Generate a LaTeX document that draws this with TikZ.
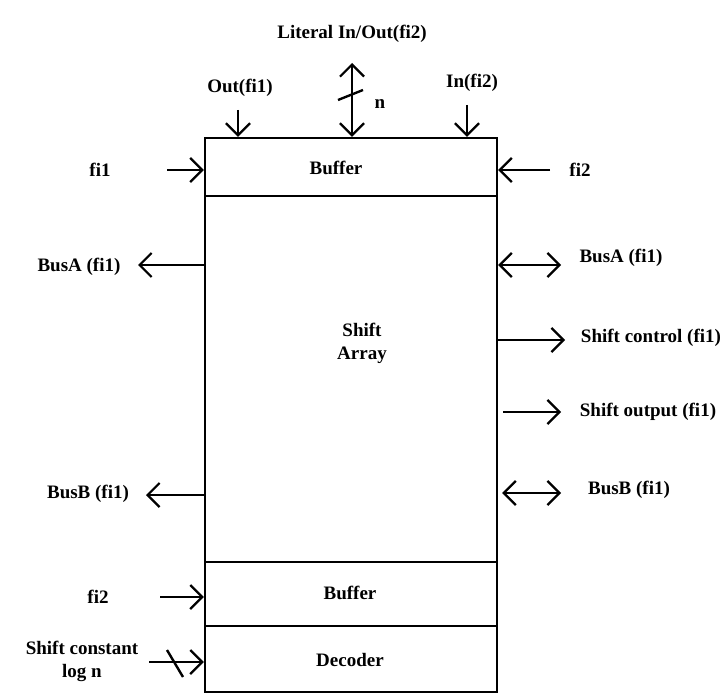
\documentclass[tikz,border=0pt]{standalone}
\usepackage{fontspec}
\setmainfont{Liberation Serif}
\usetikzlibrary{arrows.meta}

\begin{document}
\begin{tikzpicture}[x=1pt, y=-1pt,
    blk/.style={draw, line width=2.4pt, minimum width=292pt, inner sep=0pt},
    lbl/.style={font=\bfseries\fontsize{19}{23}\selectfont, inner sep=0pt, align=center},
    arr/.style={-{Straight Barb[length=12pt,width=24pt]}, line width=2.2pt},
    darr/.style={{Straight Barb[length=12pt,width=24pt]}-{Straight Barb[length=12pt,width=24pt]}, line width=2.2pt},
    bar/.style={line width=2.4pt}
]
\useasboundingbox (0,0) rectangle (728,695);

% Blocks
\node[blk, minimum height=58pt] (topbuf)  at (351,167) {};
\node[blk, minimum height=366pt] (array)  at (351,379) {};
\node[blk, minimum height=64pt] (botbuf)  at (351,594) {};
\node[blk, minimum height=66pt] (decoder) at (351,659) {};

\node[lbl] (topbufL)  at (336,168) {Buffer};
\node[lbl] (arrayL)   at (362,343) {Shift\\Array};
\node[lbl] (botbufL)  at (350,593) {Buffer};
\node[lbl] (decoderL) at (350,660) {Decoder};

% Top side
\coordinate (outT) at (238,110);
\coordinate (litT) at (352,63);
\coordinate (inT)  at (467,105);
\node[lbl] (outL) at (240,88)  {Out(fi1)};
\node[lbl] (litL) at (352,34)  {Literal In/Out(fi2)};
\node[lbl] (nL)   at (380,104) {n};
\node[lbl] (inL)  at (472,83)  {In(fi2)};
\draw[arr]  (outT) -- (outT |- topbuf.north);
\draw[darr] (litT) -- (litT |- topbuf.north);
\draw[bar]  ([shift={(-14,37)}]litT) -- ++(25,-10);
\draw[arr]  (inT) -- (inT |- topbuf.north);

% Left side
\coordinate (fi1T)  at (167,170);
\coordinate (busAl) at (138,265);
\coordinate (busBl) at (146,495);
\coordinate (fi2b)  at (160,597);
\coordinate (scT)   at (149,662);
\node[lbl] (fi1L)  at (100,170) {fi1};
\node[lbl] (busAlL) at (79,267) {BusA (fi1)};
\node[lbl] (busBlL) at (88,494) {BusB (fi1)};
\node[lbl] (fi2bL) at (98,597) {fi2};
\node[lbl] (scL)   at (82,661) {Shift constant\\log n};
\draw[arr] (fi1T) -- (fi1T -| topbuf.west);
\draw[arr] (busAl -| array.west) -- (busAl);
\draw[arr] (busBl -| array.west) -- (busBl);
\draw[arr] (fi2b) -- (fi2b -| botbuf.west);
\draw[arr] (scT) -- (scT -| decoder.west);
\draw[bar] ([shift={(18,-12)}]scT) -- ++(16,27);

% Right side
\coordinate (fi2T)  at (550,170);
\coordinate (busAr) at (561,265);
\coordinate (ctrlT) at (565,340);
\coordinate (outpT) at (561,412);
\coordinate (busBr) at (561,493);
\node[lbl] (fi2L)   at (580,170) {fi2};
\node[lbl] (busArL) at (621,258) {BusA (fi1)};
\node[lbl] (ctrlL)  at (651,338) {Shift control (fi1)};
\node[lbl] (outpL)  at (648,412) {Shift output (fi1)};
\node[lbl] (busBrL) at (629,490) {BusB (fi1)};
\draw[arr]  (fi2T) -- (fi2T -| topbuf.east);
\draw[darr] (busAr -| array.east) -- (busAr);
\draw[arr]  (ctrlT -| array.east) -- (ctrlT);
\draw[arr, shorten <=5pt]  (outpT -| array.east) -- (outpT);
\draw[darr, shorten <=4pt] (busBr -| array.east) -- (busBr);

\end{tikzpicture}
\end{document}
